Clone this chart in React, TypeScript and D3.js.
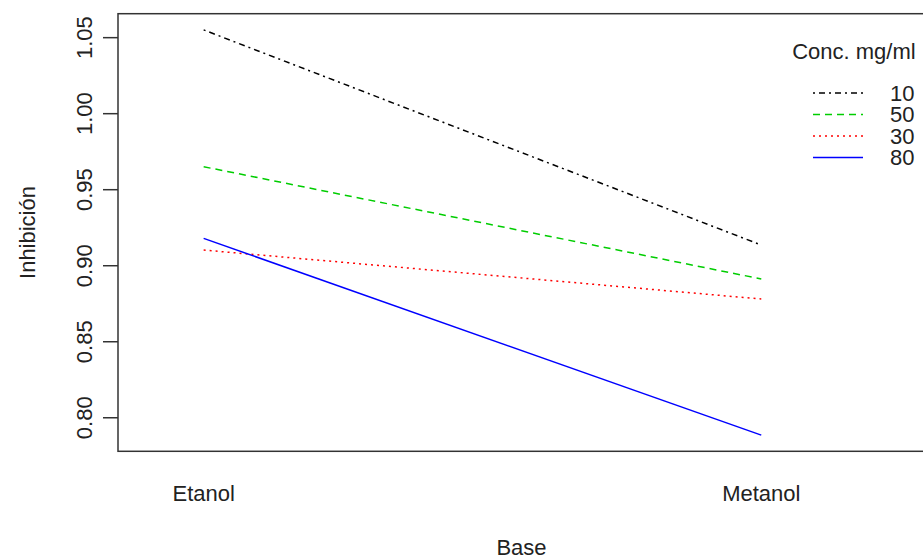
import React from "react";
import * as d3 from "d3";

const categories = ["Etanol", "Metanol"];
const seriesNames = ["10", "30", "50", "80"];
const s10 = [1.0551, 0.9136];
const s30 = [0.9103, 0.8781];
const s50 = [0.9651, 0.8913];
const s80 = [0.918, 0.7886];
const yTicks = [0.8, 0.85, 0.9, 0.95, 1.0, 1.05];
const legendOrder = ["10", "50", "30", "80"];

const seriesValues: Record<string, number[]> = { "10": s10, "30": s30, "50": s50, "80": s80 };
const colors: Record<string, string> = { "10": "#000000", "30": "#FF0000", "50": "#00CD00", "80": "#0000FF" };
const dashes: Record<string, string> = { "10": "2,4,6,4", "30": "2,4", "50": "7,5", "80": "none" };

const W = 923;
const H = 556;
const FONT = "'Liberation Sans', Arial, Helvetica, sans-serif";

export default function App() {
  const n = categories.length;
  // R interaction.plot xlim logic with 4% extension
  const xl0 = 1 - 0.2 / n;
  const xl1 = n + 0.2 + 0.02 * n;
  const xext = (xl1 - xl0) * 0.04;
  const all = seriesNames.flatMap((s) => seriesValues[s]);
  const ymin = d3.min(all) as number;
  const ymax = d3.max(all) as number;
  const yext = (ymax - ymin) * 0.04;

  const left = 118;
  const right = 925;
  const top = 13.7;
  const bottom = 451.3;

  const x = d3.scaleLinear().domain([xl0 - xext, xl1 + xext]).range([left, right]);
  const y = d3.scaleLinear().domain([ymin - yext, ymax + yext]).range([bottom, top]);

  const line = d3
    .line<number>()
    .x((_, i) => x(i + 1))
    .y((d) => y(d));

  const legX = x(n + 0.05);

  return (
    <div style={{ position: "fixed", left: 0, top: 0 }}>
      <svg width={W} height={H} style={{ display: "block", background: "#fff" }} fontFamily={FONT}>
        <rect x={0} y={0} width={W} height={H} fill="#fff" />
        {seriesNames.map((s) => (
          <path
            key={s}
            d={line(seriesValues[s]) || ""}
            fill="none"
            stroke={colors[s]}
            strokeWidth={1.5}
            strokeDasharray={dashes[s]}
          />
        ))}
        <rect x={left} y={top} width={right - left} height={bottom - top} fill="none" stroke="#333" strokeWidth={1.5} />
        {yTicks.map((t) => (
          <g key={t}>
            <line x1={left - 15} x2={left} y1={y(t)} y2={y(t)} stroke="#333" strokeWidth={1.5} />
            <text
              transform={`translate(92,${y(t)}) rotate(-90)`}
              textAnchor="middle"
              fontSize={22}
              fill="#222"
            >
              {t.toFixed(2)}
            </text>
          </g>
        ))}
        {categories.map((c, i) => (
          <text key={c} x={x(i + 1)} y={501} textAnchor="middle" fontSize={22} fill="#222">
            {c}
          </text>
        ))}
        <text x={(left + right) / 2} y={555} textAnchor="middle" fontSize={22} fill="#222">
          Base
        </text>
        <text transform={`translate(35,${(top + bottom) / 2}) rotate(-90)`} textAnchor="middle" fontSize={22} fill="#222">
          Inhibición
        </text>
        <text x={legX + 3} y={59} fontSize={22} fill="#222">
          Conc. mg/ml
        </text>
        {legendOrder.map((s, i) => {
          const ly = 93 + i * 21.5;
          return (
            <g key={s}>
              <line
                x1={813}
                x2={863}
                y1={ly}
                y2={ly}
                stroke={colors[s]}
                strokeWidth={1.5}
                strokeDasharray={dashes[s]}
              />
              <text x={890} y={ly + 7.5} fontSize={22} fill="#222">
                {s}
              </text>
            </g>
          );
        })}
      </svg>
    </div>
  );
}
